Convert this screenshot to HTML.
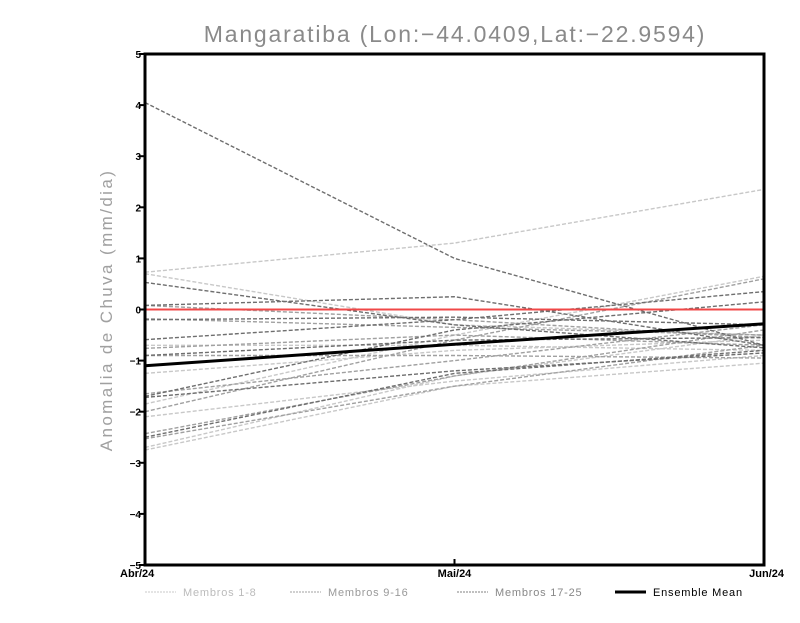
<!DOCTYPE html>
<html><head><meta charset="utf-8"><style>
body{margin:0;background:#fff;}
svg text{font-family:"Liberation Sans",sans-serif;}
</style></head><body>
<svg id="chart" width="800" height="618" xmlns="http://www.w3.org/2000/svg">
<rect width="800" height="618" fill="#fff"/>
<text x="455" y="42" text-anchor="middle" font-size="23" fill="#8a8a8a" style="letter-spacing:1.8px">Mangaratiba (Lon:−44.0409,Lat:−22.9594)</text>
<text transform="translate(112,310) rotate(-90)" text-anchor="middle" font-size="17" fill="#a0a0a0" style="letter-spacing:2.4px">Anomalia de Chuva (mm/dia)</text>
<g id="marks"></g>
<g id="axes"></g>
<g id="legend"></g>
</svg>
<script>
const categories=["Abr/24","Mai/24","Jun/24"];
const yTicks=[-5,-4,-3,-2,-1,0,1,2,3,4,5];
const membersLight=[[0.73,1.3,2.35],[0.7,-0.3,-0.5],[-1.85,-0.5,0.65],[-2.75,-1.5,-1.05],[-2.1,-1.4,-0.9],[-1.25,-0.8,-0.6],[-0.7,-0.7,-0.8],[-2.7,-1.3,-0.5]];
const membersMid=[[-2.0,-0.6,0.6],[-0.76,-0.5,-0.7],[-2.43,-1.3,-0.4],[-1.65,-1.0,-0.3],[-0.18,-0.35,-0.5],[-0.9,-0.9,-0.95],[0.08,-0.2,-0.55],[-2.53,-1.5,-0.7]];
const membersDark=[[4.05,1.0,-0.7],[0.53,-0.3,-0.75],[0.08,0.25,-0.7],[-0.59,-0.2,0.35],[-1.72,-1.2,-0.85],[-2.5,-1.25,-0.8],[-0.2,-0.15,-0.3],[-1.7,-0.4,0.15],[-0.9,-0.6,-0.55]];
const ensembleMean=[-1.1,-0.68,-0.28];
const legendLabels=["Membros 1-8","Membros 9-16","Membros 17-25","Ensemble Mean"];

const NS="http://www.w3.org/2000/svg";
const X0=145,X1=764,Y0=565,Y1=54;
const xs=i=>X0+(X1-X0)*i/(categories.length-1);
const ys=v=>Y0-(v+5)/10*(Y0-Y1);
function mk(tag,attrs,parent){const e=document.createElementNS(NS,tag);for(const k in attrs)e.setAttribute(k,attrs[k]);parent.appendChild(e);return e;}
const marks=document.getElementById('marks');
function drawGroup(arr,color,name){
  arr.forEach((s,j)=>{
    const p=mk('polyline',{points:s.map((v,i)=>xs(i)+','+ys(v)).join(' '),fill:'none',stroke:color,'stroke-width':1.4,'stroke-dasharray':'4,2'},marks);
    
    
  });
}
drawGroup(membersLight,'#c8c8c8','member-light');
drawGroup(membersMid,'#a0a0a0','member-mid');
drawGroup(membersDark,'#6e6e6e','member-dark');
const zl=mk('line',{x1:X0,x2:X1,y1:ys(0),y2:ys(0),stroke:'#f04848','stroke-width':2},marks);


const ml=mk('polyline',{points:ensembleMean.map((v,i)=>xs(i)+','+ys(v)).join(' '),fill:'none',stroke:'#000','stroke-width':3},marks);



const axes=document.getElementById('axes');
const fr=mk('rect',{x:X0,y:Y1,width:X1-X0,height:Y0-Y1,fill:'none',stroke:'#000','stroke-width':3},axes);


yTicks.forEach(t=>{
  const y=ys(t);
  const tk=mk('line',{x1:X0-6,x2:X0,y1:y,y2:y,stroke:'#000','stroke-width':2},axes);
  
  
  const tx=mk('text',{x:X0-4,y:y+4,'text-anchor':'end','font-size':10,'font-weight':'bold',fill:'#000'},axes);
  tx.textContent=String(t).replace('-','−');
  
  
});
categories.forEach((c,i)=>{
  const x=xs(i);
  const tk=mk('line',{x1:x,x2:x,y1:Y0-6,y2:Y0,stroke:'#000','stroke-width':2},axes);
  
  
  const anchor=i===0?'start':(i===categories.length-1?'end':'middle');
  const tx=mk('text',{x:i===0?x-25:(i===categories.length-1?x+20:x),y:Y0+12,'text-anchor':anchor,'font-size':11,'font-weight':'bold',fill:'#000'},axes);
  tx.textContent=c;
  
  
});
const legend=document.getElementById('legend');
const lx=[145,290,457,615],lc=['#c8c8c8','#a0a0a0','#808080','#000'],tc=['#bbb','#999','#888','#000'];
legendLabels.forEach((l,i)=>{
  const g=mk('g',{},legend);
  
  
  mk('line',{x1:lx[i],x2:lx[i]+31,y1:592,y2:592,stroke:lc[i],'stroke-width':i===3?3:1,'stroke-dasharray':i===3?'none':'2,1'},g);
  const t=mk('text',{x:lx[i]+38,y:596,'font-size':11,fill:tc[i],style:'letter-spacing:0.8px'},g);
  t.textContent=l;
});
</script>
</body></html>
